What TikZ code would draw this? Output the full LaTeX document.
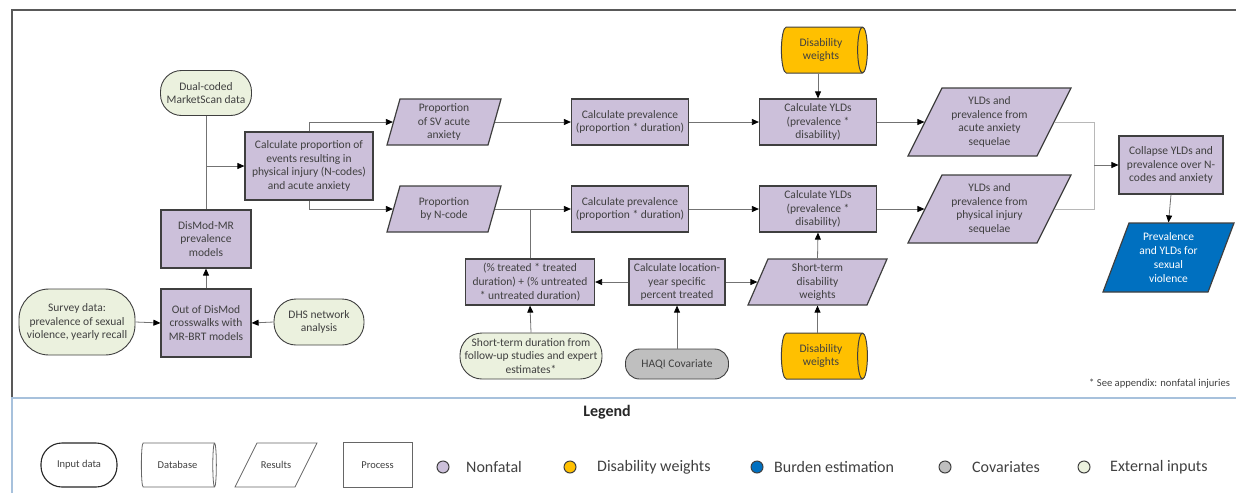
\documentclass[tikz,border=0pt]{standalone}
\usepackage{fontspec}
\setmainfont{Carlito}
\usetikzlibrary{shapes.geometric,arrows.meta,calc}
\definecolor{purp}{HTML}{CCC0DA}
\definecolor{ext}{HTML}{EBF1DE}
\definecolor{yel}{HTML}{FFC000}
\definecolor{blu}{HTML}{0070C0}
\definecolor{gry}{HTML}{BFBFBF}
\definecolor{bord}{HTML}{3F3F3F}
\definecolor{txt}{HTML}{404040}
\definecolor{frm}{HTML}{595959}
\definecolor{lblue}{HTML}{A7C1DC}
\newcommand{\paranode}[8]{%
  \filldraw[#1] ({#3-#5/2-#7/2},{#4+#6/2}) -- ({#3+#5/2-#7/2},{#4+#6/2}) -- ({#3+#5/2+#7/2},{#4-#6/2}) -- ({#3-#5/2+#7/2},{#4-#6/2}) -- cycle;
  \node[#1, draw=none, fill=none, rectangle, inner sep=0pt, minimum width=#5pt, minimum height=#6pt] (#2) at (#3,#4) {#8};}
\begin{document}
\begin{tikzpicture}[x=1pt,y=-1pt,
  font=\fontsize{11.5}{13.7}\selectfont,
  proc/.style={rectangle, draw=bord, fill=purp, line width=1.2pt, text=txt, align=center, inner sep=1pt},
  inp/.style={rectangle, rounded corners=#1, draw=bord, fill=ext, line width=0.9pt, text=txt, align=center, inner sep=1pt},
  inp/.default=20pt,
  db/.style={cylinder, shape border rotate=0, aspect=0.38, draw=bord, fill=yel, line width=1pt, text=txt, align=center, inner sep=1pt, minimum width=46pt, minimum height=86pt},
  resp/.style={draw=bord, fill=purp, line width=1.2pt, text=txt, align=center},
  resb/.style={draw=bord, fill=blu, line width=1.2pt, text=white, align=center},
  resl/.style={draw=black!60, fill=white, line width=0.8pt, text=txt, align=center, font=\fontsize{10.5}{12}\selectfont},
  conn/.style={draw=black!55, line width=0.8pt},
  connl/.style={draw=black!28, line width=0.9pt},
  arr/.style={conn, -{Triangle[length=7pt,width=6pt,color=black]}},
  legtxt/.style={font=\fontsize{16}{19}\selectfont, text=txt, anchor=west, inner sep=0pt},
  legdot/.style={circle, draw=bord, line width=1pt, minimum size=12pt, inner sep=0pt},
  legshape/.style={draw=black!60, fill=white, line width=0.8pt, text=txt, align=center, inner sep=1pt, font=\fontsize{10.5}{12}\selectfont}
]
\useasboundingbox (0,0) rectangle (1236,493);
\clip (0,0) rectangle (1236,493);
% frame
\draw[frm, line width=2pt] (12,398) -- (12,10) -- (1240,10);
\draw[lblue, line width=2pt] (12,493) -- (12,398) -- (1240,398);

% nodes
\node[inp=21pt, minimum width=91pt, minimum height=45pt] (dual) at (206,93) {Dual-coded\\MarketScan data};
\node[proc, minimum width=128pt, minimum height=68pt] (calcprop) at (309,166) {Calculate proportion of\\events resulting in\\physical injury (N-codes)\\and acute anxiety};
\node[proc, minimum width=90pt, minimum height=58pt] (dismodmr) at (206,239) {DisMod-MR\\prevalence\\models};
\node[proc, minimum width=90pt, minimum height=68pt] (outdismod) at (206,323) {Out of DisMod\\crosswalks with\\MR-BRT models};
\node[inp=30pt, minimum width=116pt, minimum height=66pt] (survey) at (77,322) {Survey data:\\prevalence of sexual\\violence, yearly recall};
\node[inp=22pt, minimum width=90pt, minimum height=46pt] (dhs) at (319,322) {DHS network\\analysis};

\paranode{resp}{propsv}{444}{122}{101}{46}{13}{Proportion\\of SV acute\\anxiety}
\node[proc, minimum width=117pt, minimum height=46pt] (calcprev1) at (630,122) {Calculate prevalence\\(proportion * duration)};
\paranode{resp}{propn}{444}{209}{101}{46}{13}{Proportion\\by N-code}
\node[proc, minimum width=117pt, minimum height=46pt] (calcprev2) at (630,209) {Calculate prevalence\\(proportion * duration)};

\node[proc, minimum width=129pt, minimum height=46pt] (treated) at (530,282) {(\% treated * treated\\duration) + (\% untreated\\* untreated duration)};
\node[proc, minimum width=96pt, minimum height=46pt] (calcloc) at (677,282) {Calculate location-\\year specific\\percent treated};
\node[inp=22pt, minimum width=142pt, minimum height=46pt] (shortdur) at (531,356) {Short-term duration from\\follow-up studies and expert\\estimates*};
\node[inp=14pt, fill=gry, minimum width=103pt, minimum height=30pt] (haqi) at (677,364) {HAQI Covariate};

\node[db] (dw1) at (821,50) {Disability\\weights};
\node[proc, minimum width=117pt, minimum height=46pt] (ylds1) at (818,122) {Calculate YLDs\\(prevalence *\\disability)};
\node[proc, minimum width=117pt, minimum height=46pt] (ylds2) at (818,209) {Calculate YLDs\\(prevalence *\\disability)};
\paranode{resp}{stdw}{817.5}{282}{119}{46}{20}{Short-term\\disability\\weights}
\node[db] (dw2) at (821,356) {Disability\\weights};

\paranode{resp}{yldsa}{989.5}{122}{129}{68}{34}{YLDs and\\prevalence from\\acute anxiety\\sequelae}
\paranode{resp}{yldsp}{989.5}{209}{129}{68}{34}{YLDs and\\prevalence from\\physical injury\\sequelae}
\node[proc, minimum width=104pt, minimum height=58pt] (collapse) at (1171,165) {Collapse YLDs and\\prevalence over N-\\codes and anxiety};
\paranode{resb}{burden}{1168.5}{257.5}{105}{69}{26}{Prevalence\\and YLDs for\\sexual\\violence}

\node[anchor=west, text=txt, inner sep=0pt, font=\fontsize{10.6}{12}\selectfont] (foot) at (1089,384) {* See appendix: nonfatal injuries};

% connectors
\coordinate (j1) at (dual.south |- calcprop.west);
\draw[conn] (dual.south) -- (dismodmr.north);
\draw[arr] (j1) -- (calcprop.west);
\draw[arr] (outdismod.north) -- (dismodmr.south);
\draw[arr] (survey.east) -- (outdismod.west);
\draw[arr] (dhs.west) -- (outdismod.east);
\draw[arr] (calcprop.north) |- (propsv.west);
\draw[arr] (calcprop.south) |- (propn.west);
\draw[arr] (propsv.east) -- (calcprev1.west);
\draw[arr] (calcprev1.east) -- (ylds1.west);
\draw[arr] (propn.east) -- (calcprev2.west);
\draw[conn] (treated.north) -- (treated.north |- propn.east);
\draw[arr] (calcprev2.east) -- (ylds2.west);
\draw[arr] (calcloc.west) -- (treated.east);
\draw[arr] (calcloc.east) -- (stdw.west);
\draw[arr] (shortdur.north) -- (treated.south);
\draw[arr] (haqi.north) -- (calcloc.south);
\draw[arr] (ylds1.north |- dw1.south) -- (ylds1.north);
\draw[arr] (stdw.north) -- (ylds2.south);
\draw[arr] (dw2.north -| stdw.south) -- (stdw.south);
\draw[arr] (ylds1.east) -- (yldsa.west);
\draw[arr] (ylds2.east) -- (yldsp.west);
\coordinate (jx) at (1094,0);
\draw[connl] (yldsa.east) -| (jx |- yldsp.east) -- (yldsp.east);
\draw[arr] (jx |- collapse.west) -- (collapse.west);
\draw[arr] (collapse.south) -- (burden.north);

% legend
\node[font=\fontsize{16}{19}\bfseries, text=black!85] (legtitle) at (607,412) {Legend};
\node[legshape, rectangle, rounded corners=21pt, draw=black!85, line width=1.1pt, minimum width=76pt, minimum height=44pt] (linp) at (79,465) {Input data};
\node[legshape, cylinder, shape border rotate=0, aspect=0.38, minimum width=44pt, minimum height=75pt] (ldb) at (177.5,465) {Database};
\paranode{resl}{lres}{276}{465}{60}{44}{22}{Results}
\node[legshape, rectangle, minimum width=69pt, minimum height=45pt] (lproc) at (377.5,465) {Process};
\node[legdot, fill=purp] (d1) at (443,467) {};
\node[legtxt] (t1) at (466,467) {Nonfatal};
\node[legdot, fill=yel] (d2) at (570,467) {};
\node[legtxt] (t2) at (597,467) {Disability weights};
\node[legdot, fill=blu] (d3) at (757,467) {};
\node[legtxt] (t3) at (774,467) {Burden estimation};
\node[legdot, fill=gry] (d4) at (945,467) {};
\node[legtxt] (t4) at (972,467) {Covariates};
\node[legdot, fill=ext] (d5) at (1084,467) {};
\node[legtxt] (t5) at (1110,467) {External inputs};
\end{tikzpicture}
\end{document}
